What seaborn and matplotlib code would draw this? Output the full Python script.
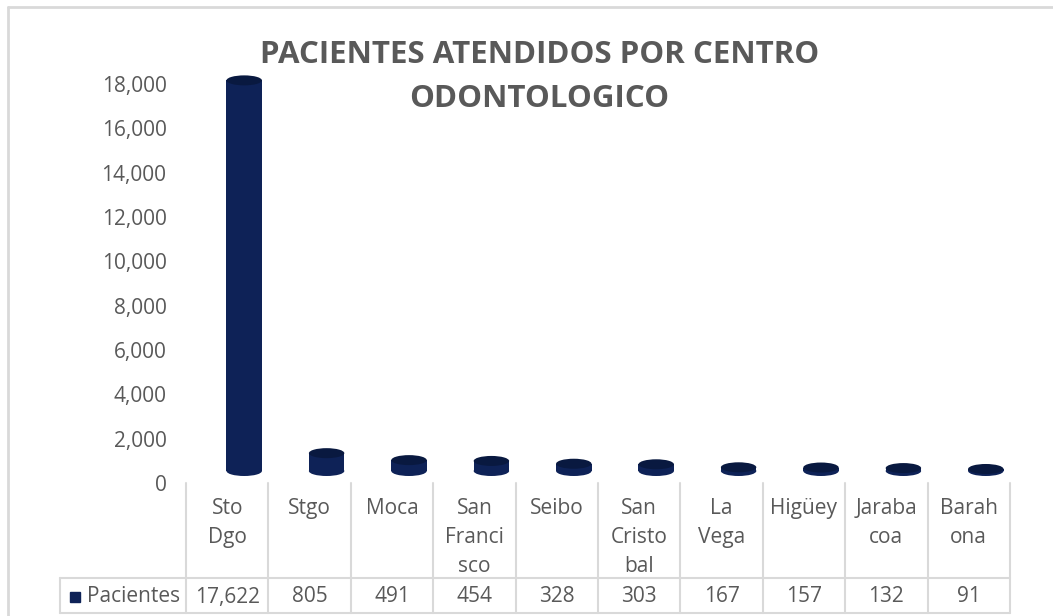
import matplotlib
matplotlib.use('Agg')
import matplotlib.pyplot as plt
import matplotlib.transforms as mtransforms
from matplotlib.patches import Ellipse, Rectangle
from matplotlib.lines import Line2D
from matplotlib.ticker import FuncFormatter
import seaborn as sns

# Data

centros = ['Sto Dgo', 'Stgo', 'Moca', 'San Francisco', 'Seibo', 'San Cristobal',
           'La Vega', 'Higüey', 'Jarabacoa', 'Barahona']
etiquetas = ['Sto\nDgo', 'Stgo', 'Moca', 'San\nFranci\nsco', 'Seibo', 'San\nCristo\nbal',
             'La\nVega', 'Higüey', 'Jaraba\ncoa', 'Barah\nona']
pacientes = [17622, 805, 491, 454, 328, 303, 167, 157, 132, 91]
serie = 'Pacientes'
titulo = 'PACIENTES ATENDIDOS POR CENTRO\nODONTOLOGICO'
y_ticks = list(range(0, 18001, 2000))

sns.set_style('white')
plt.rcParams['font.family'] = ['Open Sans', 'DejaVu Sans']

W, H = 1053, 616
gris = '#595959'
linea = '#d9d9d9'
navy = '#0e2257'
navy_top = '#091940'

fig = plt.figure(figsize=(W / 100, H / 100), dpi=100)
fy = lambda px: 1 - px / H
fx = lambda px: px / W

ax = fig.add_axes([fx(186), fy(483), fx(1010) - fx(186), fy(84) - fy(483)])

sns.barplot(x=centros, y=pacientes, color=navy, saturation=1, width=0.43, ax=ax)
ax.set_xlim(-0.5, len(centros) - 0.5)
ax.set_ylim(0, 18000)
ax.set_yticks(y_ticks)
ax.yaxis.set_major_formatter(FuncFormatter(lambda v, p: f'{int(v):,}'))
ax.tick_params(axis='y', length=0, pad=14, labelsize=15, labelcolor=gris)
ax.set_xticks([])
ax.set_xlabel('')
sns.despine(ax=ax, left=True, bottom=True)

# 3D cylinder look: shift bars back and add elliptic caps
shift = mtransforms.offset_copy(ax.transData, fig=fig, x=17, y=12, units='dots')
ell_h = 10 * 18000 / (483 - 84)
for p in ax.patches:
    p.set_transform(shift)
    p.set_clip_on(False)
    p.set_edgecolor('none')
    x0, w, h = p.get_x(), p.get_width(), p.get_height()
    ax.add_patch(Ellipse((x0 + w / 2, 0), w, ell_h, fc=navy, ec='none', transform=shift,
                         clip_on=False, zorder=1))
    ax.add_patch(Ellipse((x0 + w / 2, h), w, ell_h, fc=navy_top, ec='none', transform=shift,
                         clip_on=False, zorder=3))

# Title
fig.text(0.512, fy(77), titulo, ha='center', va='center', fontsize=22.5, fontweight='bold',
         color=gris, linespacing=1.62)

# Data table
tr = mtransforms.blended_transform_factory(ax.transData, fig.transFigure)
n = len(centros)
for i in range(n + 1):
    ax.add_line(Line2D([i - 0.5, i - 0.5], [fy(483), fy(613)], transform=tr, color=linea,
                       lw=1.5, clip_on=False))
for ypx in (578, 613):
    fig.add_artist(Line2D([fx(60), fx(1010)], [fy(ypx), fy(ypx)], color=linea, lw=1.5))
fig.add_artist(Line2D([fx(60), fx(60)], [fy(578), fy(613)], color=linea, lw=1.5))

for i, (lab, val) in enumerate(zip(etiquetas, pacientes)):
    ax.text(i, fy(498), lab, transform=tr, ha='center', va='top', fontsize=15,
            color=gris, linespacing=1.5, clip_on=False)
    ax.text(i, fy(597), f'{val:,}', transform=tr, ha='center', va='center', fontsize=15,
            color=gris, clip_on=False)

fig.add_artist(Rectangle((fx(70), fy(602)), fx(80) - fx(70), fy(592) - fy(602), color=navy))
fig.text(fx(87), fy(597), serie, ha='left', va='center', fontsize=15, color=gris)

# Chart border
fig.add_artist(Line2D([fx(8), fx(8)], [fy(7), 0], color=linea, lw=2))
fig.add_artist(Line2D([fx(8), 1], [fy(7), fy(7)], color=linea, lw=2))

fig.savefig('out.png', dpi=100)
